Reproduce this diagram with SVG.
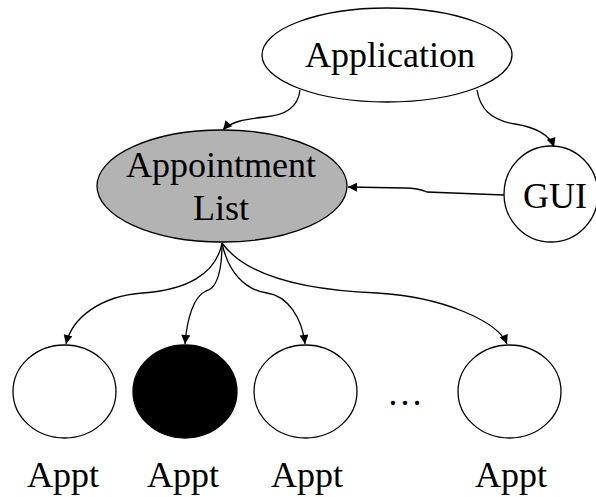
<svg xmlns="http://www.w3.org/2000/svg" width="596" height="497" viewBox="0 0 596 497">
  <style>
    .node { stroke: #000; stroke-width: 1.3; }
    .open { fill: #fff; }
    .gray { fill: #b3b3b3; }
    .solid { fill: #000; }
    .label { font-family: "Liberation Serif", "Times New Roman", serif; font-size: 36px; fill: #000; text-anchor: middle; }
    .edge { fill: none; stroke: #000; stroke-width: 1.3; marker-end: url(#arrow); }
  </style>
  <defs>
    <marker id="arrow" viewBox="0 0 10 10" refX="10" refY="5" markerWidth="10" markerHeight="9" markerUnits="userSpaceOnUse" orient="auto">
      <path d="M0,0 L10,5 L0,10 Z" fill="#000"/>
    </marker>
  </defs>
  <rect width="596" height="497" fill="#fff"/>

  <g id="connectors">
    <path class="edge" d="M300,90 C298,108 285,115 265,117 C245,119 230,122 223,130"/>
    <path class="edge" d="M477,90 C480,108 490,120 515,124 C535,127 550,135 554,147"/>
    <path class="edge" d="M504,195 L427,192 C420,189 415,188 405,188 L348,187"/>
    <path class="edge" d="M222,243 C216,275 185,290 143,293 C100,296 72,318 66,344"/>
    <path class="edge" d="M222,243 C222,268 218,288 206,291 C194,296 187,318 185,344"/>
    <path class="edge" d="M222,243 C228,272 245,290 267,293 C288,296 302,318 305,344"/>
    <path class="edge" d="M222,243 C245,275 300,290 377,293 C445,297 498,322 507,344"/>
  </g>

  <g id="application">
    <ellipse class="node open" cx="387" cy="55" rx="125" ry="47"/>
    <text class="label" x="390" y="67">Application</text>
  </g>

  <g id="appointment-list">
    <ellipse class="node gray" cx="222" cy="186" rx="125" ry="56"/>
    <text class="label" x="221" y="177">Appointment</text>
    <text class="label" x="221" y="220">List</text>
  </g>

  <g id="gui">
    <ellipse class="node open" cx="551" cy="194" rx="47" ry="48"/>
    <text class="label" x="555" y="208">GUI</text>
  </g>

  <g id="appt-1">
    <ellipse class="node open" cx="64.5" cy="391.5" rx="51.5" ry="46.5"/>
    <text class="label" x="63" y="487">Appt</text>
  </g>

  <g id="appt-2">
    <ellipse class="node solid" cx="185" cy="391.5" rx="52" ry="46.5"/>
    <text class="label" x="183" y="487">Appt</text>
  </g>

  <g id="appt-3">
    <ellipse class="node open" cx="305.5" cy="391.5" rx="51.5" ry="46.5"/>
    <text class="label" x="307" y="487">Appt</text>
  </g>

  <g id="ellipsis">
    <text class="label" x="405" y="405">…</text>
  </g>

  <g id="appt-n">
    <ellipse class="node open" cx="509.5" cy="391.5" rx="51.5" ry="46.5"/>
    <text class="label" x="511" y="487">Appt</text>
  </g>
</svg>
